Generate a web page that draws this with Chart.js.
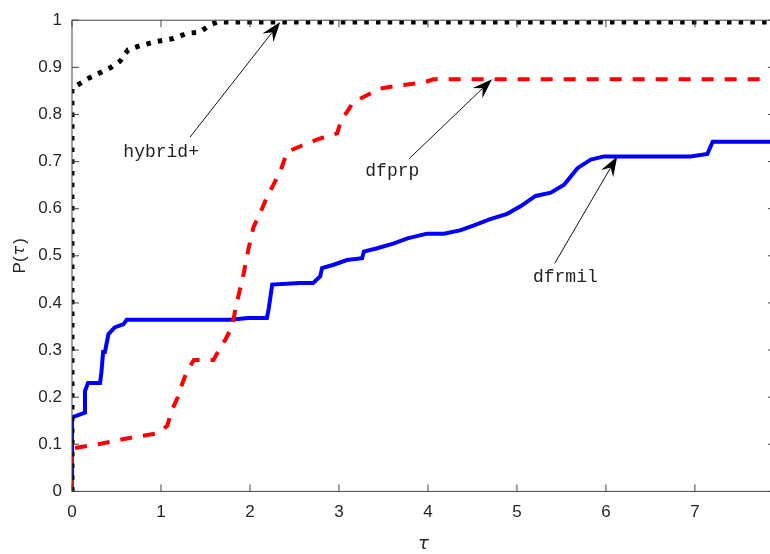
<!DOCTYPE html>
<html>
<head>
<meta charset="utf-8">
<script src="https://cdn.jsdelivr.net/npm/chart.js@4"></script>
<style>
  body { margin: 0; overflow: hidden; background: #fff; }
  #wrap { width: 776px; height: 554px; }
</style>
</head>
<body>
<div id="wrap"><canvas id="myChart" width="776" height="554"></canvas></div>
<script>
// data
const xTicks = [0, 1, 2, 3, 4, 5, 6, 7];
const yTicks = [0, 0.1, 0.2, 0.3, 0.4, 0.5, 0.6, 0.7, 0.8, 0.9, 1];
const yTickLabels = ['0', '0.1', '0.2', '0.3', '0.4', '0.5', '0.6', '0.7', '0.8', '0.9', '1'];

const hybridTau = [0, 0, 0.05, 0.2, 0.43, 0.54, 0.63, 0.77, 0.95, 1.14, 1.29, 1.44, 1.55, 1.63, 7.9];
const hybridP   = [0, 0.855, 0.861, 0.878, 0.899, 0.913, 0.937, 0.946, 0.955, 0.961, 0.972, 0.975, 0.99, 0.996, 0.996];

const dfprpTau = [0, 0, 0.32, 0.69, 0.95, 1.07, 1.12, 1.19, 1.22, 1.29, 1.37, 1.59, 1.64, 1.72, 1.8, 1.84, 1.93, 1.98, 2.04, 2.11, 2.19, 2.34, 2.42, 2.56, 2.79, 2.98, 3.03, 3.09, 3.16, 3.31, 3.46, 3.69, 3.95, 4.06, 7.9];
const dfprpP   = [0, 0.091, 0.101, 0.115, 0.123, 0.139, 0.171, 0.2, 0.219, 0.254, 0.279, 0.279, 0.296, 0.321, 0.35, 0.39, 0.463, 0.512, 0.561, 0.589, 0.624, 0.679, 0.721, 0.732, 0.749, 0.76, 0.791, 0.805, 0.826, 0.84, 0.855, 0.862, 0.8675, 0.8745, 0.8745];

const dfrmilTau = [0, 0, 0.146, 0.146, 0.18, 0.315, 0.33, 0.35, 0.37, 0.41, 0.48, 0.58, 0.615, 1.78, 1.98, 2.19, 2.21, 2.25, 2.56, 2.71, 2.79, 2.81, 2.94, 3.09, 3.26, 3.28, 3.43, 3.61, 3.77, 3.99, 4.18, 4.36, 4.51, 4.7, 4.89, 5.04, 5.21, 5.38, 5.53, 5.68, 5.83, 5.98, 6.95, 7.14, 7.2, 7.9];
const dfrmilP   = [0, 0.157, 0.167, 0.213, 0.23, 0.23, 0.251, 0.296, 0.296, 0.334, 0.348, 0.355, 0.3645, 0.3645, 0.368, 0.368, 0.387, 0.439, 0.4425, 0.4425, 0.4565, 0.474, 0.481, 0.491, 0.495, 0.509, 0.516, 0.526, 0.537, 0.547, 0.547, 0.554, 0.564, 0.578, 0.589, 0.605, 0.627, 0.634, 0.651, 0.686, 0.704, 0.711, 0.711, 0.716, 0.742, 0.742];

// text arrows, in data units: label anchor, arrow tail, arrow tip
const notes = [
  { text: 'hybrid+', at: [0.577, 0.71], from: [1.327, 0.752], to: [2.34, 0.996] },
  { text: 'dfprp',   at: [3.296, 0.669], from: [3.794, 0.707], to: [4.72, 0.8745] },
  { text: 'dfrmil',  at: [5.18, 0.444], from: [5.425, 0.484], to: [6.127, 0.711] }
];

const pts = (xs, ys) => xs.map((x, i) => ({ x: x, y: ys[i] }));

const axisColor = '#444';
const labelFont = '17px "Liberation Sans", Arial, Helvetica, sans-serif';

// box, inward ticks, arrows and axis titles (matlab look)
const matlabAxes = {
  id: 'matlabAxes',
  afterDatasetsDraw(chart) {
    const { ctx, chartArea: a, scales: { x, y } } = chart;
    const tl = 7;
    ctx.save();
    ctx.strokeStyle = axisColor;
    ctx.lineWidth = 1;
    ctx.strokeRect(a.left, a.top, a.right - a.left, a.bottom - a.top);
    ctx.beginPath();
    xTicks.forEach(v => {
      const px = x.getPixelForValue(v);
      ctx.moveTo(px, a.bottom); ctx.lineTo(px, a.bottom - tl);
      ctx.moveTo(px, a.top); ctx.lineTo(px, a.top + tl);
    });
    yTicks.forEach(v => {
      const py = y.getPixelForValue(v);
      ctx.moveTo(a.left, py); ctx.lineTo(a.left + tl, py);
      ctx.moveTo(a.right, py); ctx.lineTo(a.right - tl, py);
    });
    ctx.stroke();

    // annotations
    ctx.fillStyle = '#222';
    ctx.strokeStyle = '#111';
    ctx.font = '18px "Liberation Mono", "Courier New", monospace';
    ctx.textBaseline = 'alphabetic';
    ctx.textAlign = 'left';
    notes.forEach(n => {
      ctx.fillStyle = '#222';
      ctx.fillText(n.text, x.getPixelForValue(n.at[0]), y.getPixelForValue(n.at[1]));
      const x0 = x.getPixelForValue(n.from[0]), y0 = y.getPixelForValue(n.from[1]);
      const x1 = x.getPixelForValue(n.to[0]), y1 = y.getPixelForValue(n.to[1]);
      const ang = Math.atan2(y1 - y0, x1 - x0);
      const len = 20, hw = 7, back = 13;
      ctx.lineWidth = 1;
      ctx.beginPath();
      ctx.moveTo(x0, y0);
      ctx.lineTo(x1 - back * Math.cos(ang), y1 - back * Math.sin(ang));
      ctx.stroke();
      ctx.save();
      ctx.translate(x1, y1);
      ctx.rotate(ang);
      ctx.beginPath();
      ctx.moveTo(0, 0);
      ctx.lineTo(-len, -hw);
      ctx.lineTo(-back, 0);
      ctx.lineTo(-len, hw);
      ctx.closePath();
      ctx.fillStyle = '#000';
      ctx.fill();
      ctx.restore();
    });

    // axis titles
    ctx.fillStyle = '#262626';
    ctx.textBaseline = 'middle';
    ctx.textAlign = 'center';
    ctx.font = 'italic 18px "DejaVu Sans", "Liberation Sans", sans-serif';
    ctx.fillText('τ', (a.left + a.right) / 2, 544);

    ctx.save();
    ctx.translate(20, (a.top + a.bottom) / 2);
    ctx.rotate(-Math.PI / 2);
    const f1 = labelFont, f2 = 'italic 16px "DejaVu Sans", "Liberation Sans", sans-serif';
    ctx.font = f1; const w1 = ctx.measureText('P(').width + 1; const w3 = ctx.measureText(')').width;
    ctx.font = f2; const w2 = ctx.measureText('τ').width + 2;
    let cx = -(w1 + w2 + w3) / 2;
    ctx.textAlign = 'left';
    ctx.font = f1; ctx.fillText('P(', cx, 0); cx += w1;
    ctx.font = f2; ctx.fillText('τ', cx, 0); cx += w2;
    ctx.font = f1; ctx.fillText(')', cx, 0);
    ctx.restore();
    ctx.restore();
  }
};

const data = {
  datasets: [
    {
      label: 'hybrid+',
      data: pts(hybridTau, hybridP),
      borderColor: '#000000',
      borderWidth: 5,
      borderDash: [4.5, 7.2],
      borderCapStyle: 'butt'
    },
    {
      label: 'dfprp',
      data: pts(dfprpTau, dfprpP),
      borderColor: '#ff0000',
      borderWidth: 4,
      borderDash: [12, 11]
    },
    {
      label: 'dfrmil',
      data: pts(dfrmilTau, dfrmilP),
      borderColor: '#0000ff',
      borderWidth: 4
    }
  ]
};

const config = {
  type: 'scatter',
  data,
  options: {
    responsive: false,
    animation: false,
    showLine: true,
    elements: { point: { radius: 0 }, line: { tension: 0 } },
    layout: { padding: { left: 0, right: 1, top: 13, bottom: 0 } },
    plugins: { legend: { display: false }, tooltip: { enabled: false } },
    scales: {
      x: {
        type: 'linear',
        min: 0,
        max: 7.9,
        grid: { display: false, drawTicks: false },
        border: { display: false },
        afterBuildTicks: s => { s.ticks = xTicks.map(v => ({ value: v })); },
        afterFit: s => { s.height = 62.6; },
        ticks: {
          color: '#262626',
          font: { family: '"Liberation Sans", Arial, Helvetica, sans-serif', size: 17 },
          padding: 11,
          maxRotation: 0,
          callback: v => String(v)
        }
      },
      y: {
        type: 'linear',
        min: 0,
        max: 1,
        grid: { display: false, drawTicks: false },
        border: { display: false },
        afterBuildTicks: s => { s.ticks = yTicks.map(v => ({ value: v })); },
        afterFit: s => { s.width = 72; },
        ticks: {
          color: '#262626',
          font: { family: '"Liberation Sans", Arial, Helvetica, sans-serif', size: 17 },
          padding: 10,
          callback: (v, i) => yTickLabels[i]
        }
      }
    }
  },
  plugins: [matlabAxes]
};

const myChart = new Chart(document.getElementById('myChart'), config);
</script>
</body>
</html>
